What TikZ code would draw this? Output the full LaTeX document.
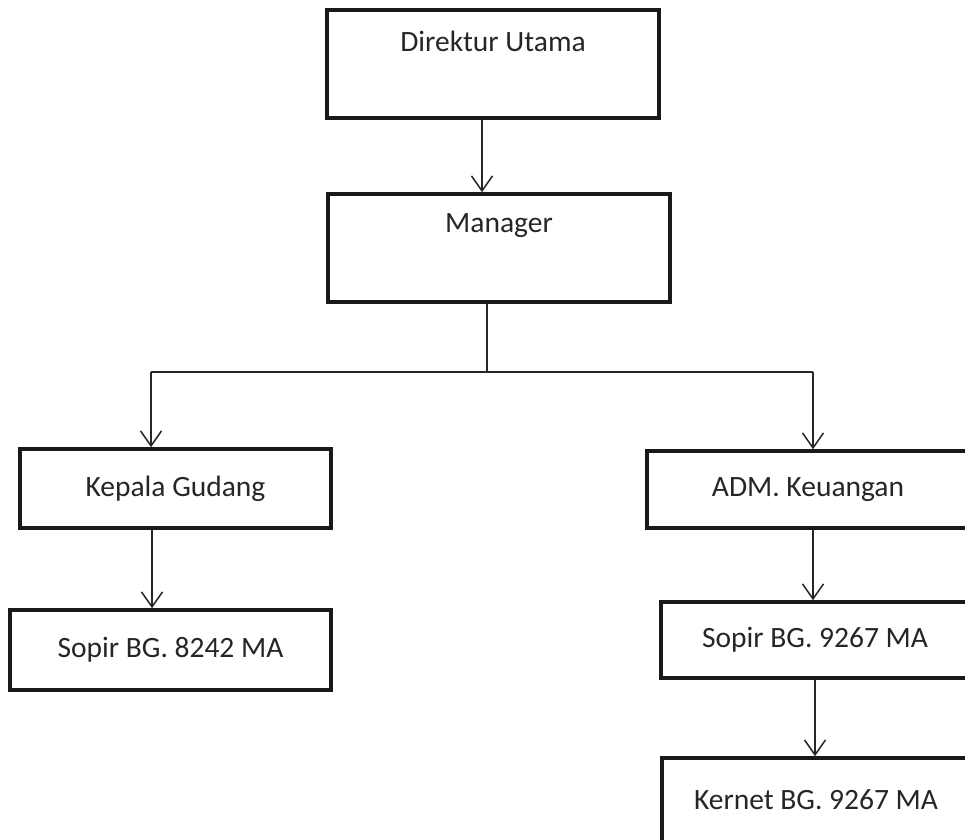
\documentclass[tikz,border=0pt]{standalone}
\usepackage{fontspec}
\setmainfont{Carlito}
\usetikzlibrary{arrows.meta}

\tikzset{
    box/.style={draw=black!90, line width=3.6pt, rectangle, inner sep=0pt,
        text=black!85, font=\fontsize{29.5}{34}\selectfont},
    link/.style={draw=black!85, line width=1.5pt},
    linkarrow/.style={link, -{Straight Barb[length=15pt,width=21pt,line width=1.5pt]}},
}

\begin{document}
\begin{tikzpicture}[x=1pt,y=-1pt]
            \clip (0,0) rectangle (965,839);
            \fill[white] (0,0) rectangle (965,839);

            % top of the chart
            \node[box, minimum width=332, minimum height=108,
                label={[anchor=center, yshift=-33pt, font=\fontsize{29.5}{34}\selectfont, text=black!85]north:Direktur Utama}]
                (dirut) at (493,64) {};
            \node[box, minimum width=342, minimum height=108,
                label={[anchor=center, yshift=-33pt, font=\fontsize{29.5}{34}\selectfont, text=black!85]north:Manager}]
                (mgr) at (499,248) {};

            % left branch
            \node[box, minimum width=311, minimum height=79] (kagud) at (175.5,488.5) {Kepala Gudang};
            \node[box, minimum width=321, minimum height=80] (sopirA) at (170.5,650) {Sopir BG. 8242 MA};

            % right branch
            \node[box, minimum width=322, minimum height=77] (adm) at (808,489.5) {ADM. Keuangan};
            \node[box, minimum width=308, minimum height=76] (sopirB) at (815,640) {Sopir BG. 9267 MA};
            \node[box, minimum width=308, minimum height=84] (kernet) at (816,800) {Kernet BG. 9267 MA};

            \coordinate (split) at (487,372);
            \coordinate (splitL) at (151,372);
            \coordinate (splitR) at (813,372);

            \draw[linkarrow] ([xshift=-11pt]dirut.south) -- ([xshift=-17pt]mgr.north);
            \draw[link] ([xshift=-12pt]mgr.south) -- (split);
            \draw[link] (splitL) -- (splitR);
            \draw[linkarrow] (splitL) -- ([xshift=-24.5pt]kagud.north);
            \draw[linkarrow] (splitR) -- ([xshift=5pt]adm.north);
            \draw[linkarrow] ([xshift=-23.5pt]kagud.south) -- ([xshift=-18.5pt]sopirA.north);
            \draw[linkarrow] ([xshift=5pt]adm.south) -- ([xshift=-2pt]sopirB.north);
            \draw[linkarrow] (sopirB.south) -- ([xshift=-1pt]kernet.north);
\end{tikzpicture}
\end{document}
